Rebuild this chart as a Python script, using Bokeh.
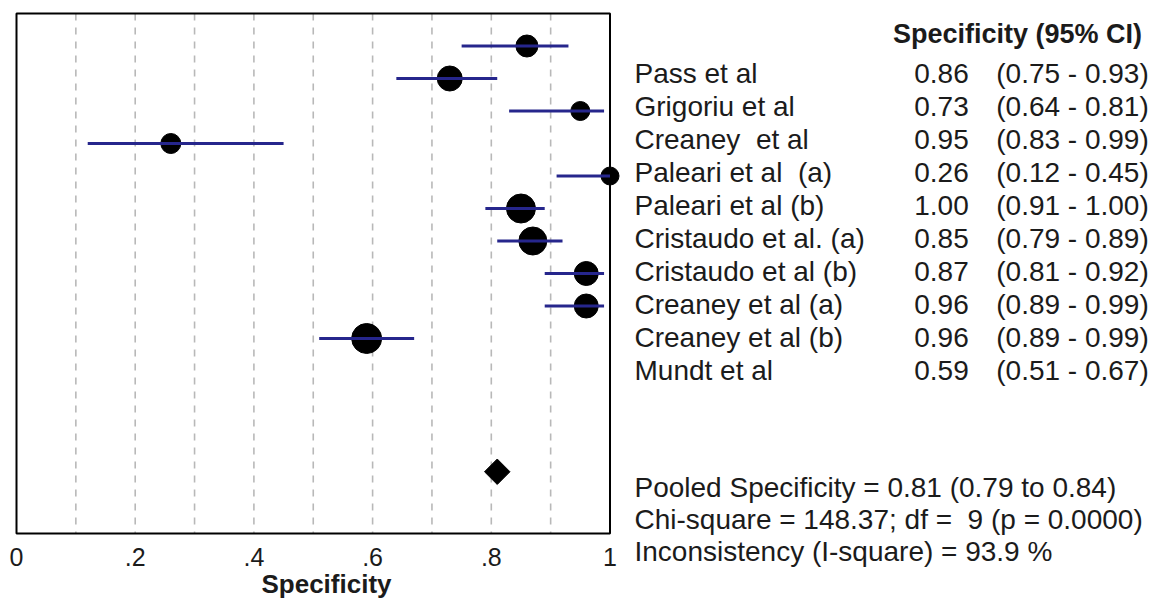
import math
from bokeh.plotting import figure
from bokeh.models import Range1d, FixedTicker, ColumnDataSource
from bokeh.core.properties import value
from bokeh.embed import file_html
from bokeh.resources import INLINE

# ---------------- data ----------------
studies = ["Pass et al", "Grigoriu et al", "Creaney \u00a0et al", "Paleari et al \u00a0(a)",
           "Paleari et al (b)", "Cristaudo et al. (a)", "Cristaudo et al (b)",
           "Creaney et al (a)", "Creaney et al (b)", "Mundt et al"]
specificity = [0.86, 0.73, 0.95, 0.26, 1.00, 0.85, 0.87, 0.96, 0.96, 0.59]
ci_low = [0.75, 0.64, 0.83, 0.12, 0.91, 0.79, 0.81, 0.89, 0.89, 0.51]
ci_high = [0.93, 0.81, 0.99, 0.45, 1.00, 0.89, 0.92, 0.99, 0.99, 0.67]
study_weight_px = [22, 25, 19, 20, 18, 29, 28, 24, 24, 30]

pooled_spec = 0.81
pooled_low = 0.79
pooled_high = 0.84
chi_square = 148.37
chi_df = 9
chi_p = "0.0000"
i_square = 93.9

tick_values = [0, 0.2, 0.4, 0.6, 0.8, 1]
tick_labels = ["0", ".2", ".4", ".6", ".8", "1"]
grid_values = [0.1, 0.2, 0.3, 0.4, 0.5, 0.6, 0.7, 0.8, 0.9]

# ---------------- style / layout ----------------
FONT = value("Liberation Sans")
TXT = "#1b1b1b"
NAVY = "#26268c"
W, H = 1150, 599
X0_PX, UNIT_PX = 16.0, 593.5          # screen x of 0 and px per unit
ROW1_PX, ROW_STEP = 45.5, 32.5        # screen y of first study row, row spacing

def x_at(px):
    return (px - X0_PX) / UNIT_PX

def r_at(py):
    return 1 + (py - ROW1_PX) / ROW_STEP

p = figure(width=W, height=H, output_backend="svg", toolbar_location=None,
           x_range=Range1d(x_at(0), x_at(W)), y_range=Range1d(r_at(H), r_at(0)),
           y_axis_location=None, min_border=0)
p.outline_line_color = None
p.xgrid.visible = False
p.ygrid.visible = False
p.extra_x_ranges = {"px": Range1d(0, W)}
p.extra_y_ranges = {"py": Range1d(H, 0)}

rows_y = [i + 1 for i in range(len(studies))]
pooled_row = 14.1
box_top, box_bottom = 0, 16

# dashed reference lines
p.segment(x0=grid_values, y0=[box_top] * len(grid_values), x1=grid_values,
          y1=[box_bottom] * len(grid_values), line_color="#b8b8b8",
          line_width=1.6, line_dash="7 7")
# plot box
p.quad(left=[0], right=[1], top=[box_top], bottom=[box_bottom], fill_color=None,
       line_color="black", line_width=2)

src = ColumnDataSource(dict(x=specificity, y=rows_y, lo=ci_low, hi=ci_high,
                            s=study_weight_px))
p.scatter(x="x", y="y", size="s", source=src, fill_color="black",
          line_color="black")
p.segment(x0="lo", y0="y", x1="hi", y1="y", source=src, line_color=NAVY,
          line_width=3)
p.scatter(x=[pooled_spec], y=[pooled_row], marker="square", angle=math.pi / 4,
          size=18, fill_color="black", line_color="black")

ax = p.xaxis[0]
ax.fixed_location = box_bottom
ax.bounds = (0, 1.045)
ax.ticker = FixedTicker(ticks=tick_values)
ax.major_label_overrides = dict(zip(tick_values, tick_labels))
ax.axis_line_color = None
ax.major_tick_line_color = None
ax.minor_tick_line_color = None
ax.major_label_standoff = 8
ax.major_label_text_font = "Liberation Sans"
ax.major_label_text_font_size = "25px"
ax.major_label_text_color = TXT
ax.axis_label = "Specificity"
ax.axis_label_standoff = 0
ax.axis_label_text_font = "Liberation Sans"
ax.axis_label_text_font_size = "26px"
ax.axis_label_text_font_style = "bold"
ax.axis_label_text_color = TXT

# ---------------- table (pixel ranges) ----------------
row_y = [73 + 33 * i for i in range(len(studies))]
val_txt = ["%.2f" % v for v in specificity]
ci_txt = ["(%.2f - %.2f)" % (a, b) for a, b in zip(ci_low, ci_high)]
kw = dict(x_range_name="px", y_range_name="py", text_font=FONT,
          text_color=TXT, text_baseline="middle")

p.text(x=[1017], y=[33], text=["Specificity (95% CI)"],
       text_font_size=value("27px"), text_font_style="bold",
       text_align="center", **kw)
p.text(x=[634] * len(studies), y=row_y, text=studies,
       text_font_size=value("28px"), text_align="left", **kw)
p.text(x=[941] * len(studies), y=row_y, text=val_txt,
       text_font_size=value("28px"), text_align="center", **kw)
p.text(x=[1072] * len(studies), y=row_y, text=ci_txt,
       text_font_size=value("28px"), text_align="center", **kw)

summary = [
    "Pooled Specificity = %.2f (%.2f to %.2f)" % (pooled_spec, pooled_low, pooled_high),
    "Chi-square = %.2f; df = \u00a0%d (p = %s)" % (chi_square, chi_df, chi_p),
    "Inconsistency (I-square) = %.1f %%" % i_square,
]
p.text(x=[634] * 3, y=[487 + 32 * i for i in range(3)], text=summary,
       text_font_size=value("28px"), text_align="left", **kw)

open("out.html", "w").write(file_html(p, INLINE))
